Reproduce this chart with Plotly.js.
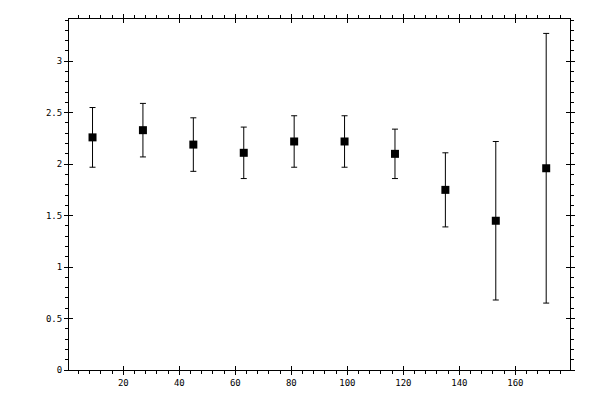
<!DOCTYPE html>
<html>
<head>
<meta charset="utf-8">
<script src="https://cdn.plot.ly/plotly-3.0.1.min.js"></script>
<style>
  html, body { margin: 0; padding: 0; background: #fff; }
  #chart { width: 600px; height: 400px; }
</style>
</head>
<body>
<div id="chart"></div>
<script>
const xCentres = [9, 27, 45, 63, 81, 99, 117, 135, 153, 171];
const yMeans = [2.26, 2.33, 2.19, 2.11, 2.22, 2.22, 2.10, 1.75, 1.45, 1.96];
const yErrors = [0.29, 0.26, 0.26, 0.25, 0.25, 0.25, 0.24, 0.36, 0.77, 1.31];

const tickFont = { family: 'DejaVu Sans Mono, monospace', size: 9, color: '#000' };

let points = {
    x: xCentres,
    y: yMeans,
    type: 'scatter',
    mode: 'markers',
    marker: { symbol: 'square', size: 8, color: '#000' },
    error_y: { type: 'data', array: yErrors, visible: true, color: '#000', thickness: 1, width: 3 },
    hoverinfo: 'none',
    showlegend: false
};

// empty trace so the inner-tick axes get drawn
let inner = { x: [], y: [], xaxis: 'x2', yaxis: 'y2', type: 'scatter', showlegend: false };

// outer ticks + labels on the main axes
let outerX = {
    range: [0.6, 179.5],
    tick0: 0, dtick: 20,
    ticks: 'outside', ticklen: 4, tickwidth: 1, tickcolor: '#000',
    minor: { ticks: 'outside', dtick: 4, ticklen: 3, tickwidth: 1, tickcolor: '#000' },
    showline: true, linecolor: '#000', linewidth: 1, mirror: 'ticks',
    showgrid: false, zeroline: false,
    tickfont: tickFont
};
let outerY = {
    range: [0, 3.41],
    tick0: 0, dtick: 0.5,
    ticks: 'outside', ticklen: 4, tickwidth: 1, tickcolor: '#000',
    minor: { ticks: 'outside', dtick: 0.1, ticklen: 3, tickwidth: 1, tickcolor: '#000' },
    showline: true, linecolor: '#000', linewidth: 1, mirror: 'ticks',
    showgrid: false, zeroline: false,
    tickfont: tickFont
};

// major ticks cross the frame, so a second set points inwards
let innerX = {
    overlaying: 'x', anchor: 'y2',
    range: [0.6, 179.5], tick0: 0, dtick: 20,
    ticks: 'inside', ticklen: 4, tickwidth: 1, tickcolor: '#000',
    showline: true, linecolor: '#000', mirror: 'ticks',
    showticklabels: false, showgrid: false, zeroline: false
};
let innerY = {
    overlaying: 'y', anchor: 'x2',
    range: [0, 3.41], tick0: 0, dtick: 0.5,
    ticks: 'inside', ticklen: 4, tickwidth: 1, tickcolor: '#000',
    showline: true, linecolor: '#000', mirror: 'ticks',
    showticklabels: false, showgrid: false, zeroline: false
};

let layout = {
    width: 600, height: 400,
    margin: { l: 69, r: 30, t: 19, b: 30 },
    paper_bgcolor: '#fff', plot_bgcolor: '#fff',
    xaxis: outerX, yaxis: outerY,
    xaxis2: innerX, yaxis2: innerY,
    showlegend: false
};

Plotly.newPlot('chart', [points, inner], layout, { staticPlot: true });
</script>
</body>
</html>
